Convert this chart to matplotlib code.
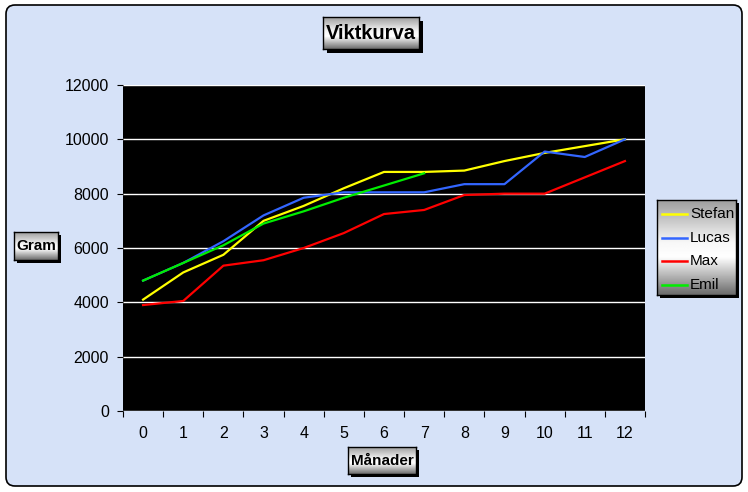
import numpy as np
import matplotlib
matplotlib.use("Agg")
import matplotlib.pyplot as plt
from matplotlib.patches import Rectangle, FancyBboxPatch
from matplotlib.lines import Line2D

plt.rcParams['font.family'] = ['Liberation Sans', 'DejaVu Sans']

months = list(range(13))
stefan = [4100, 5100, 5750, 7000, 7550, 8200, 8800, 8800, 8850, 9200, 9500, 9750, 10000]
lucas = [4800, 5450, 6250, 7200, 7850, 8050, 8050, 8050, 8350, 8350, 9550, 9350, 10000]
max_ = [3900, 4050, 5350, 5550, 6000, 6550, 7250, 7400, 7950, 8000, 8000, 8600, 9200]
emil = [4800, 5450, 6100, 6900, 7350, 7850, 8300, 8750]
names = ["Stefan", "Lucas", "Max", "Emil"]
colors = ["#ffff00", "#3366ff", "#ff0000", "#00ee00"]

W, H = 748, 492
BG = "#d6e2f8"


def fx(x):
    return x / W


def fy(y):
    return 1 - y / H


def gray_box(fig, x0, y0, x1, y1, shadow=4):
    # shadow + gradient box, pixel coords from top-left
    fig.patches.append(Rectangle((fx(x0 + shadow), fy(y1 + shadow)), fx(x1 - x0), (y1 - y0) / H,
                                 transform=fig.transFigure, facecolor="black", edgecolor="none", zorder=1))
    bax = fig.add_axes([fx(x0), fy(y1), fx(x1 - x0), (y1 - y0) / H], zorder=3)
    t = np.linspace(0, 1, 100)
    g = np.interp(t, [0, 0.45, 0.6, 1], [0.62, 0.97, 1.0, 0.42])
    bax.imshow(g[:, None], aspect="auto", cmap="gray", vmin=0, vmax=1, extent=[0, 1, 0, 1])
    bax.set_xticks([])
    bax.set_yticks([])
    for s in bax.spines.values():
        s.set_linewidth(1.0)
        s.set_color("black")
    return bax


fig = plt.figure(figsize=(W / 100, H / 100), dpi=100, facecolor="white")
fig.patches.append(FancyBboxPatch((fx(6), fy(486)), fx(736), 481 / H,
                                  boxstyle="round,pad=0,rounding_size=0.012",
                                  transform=fig.transFigure, facecolor=BG, edgecolor="black",
                                  linewidth=1.2, zorder=0, mutation_aspect=W / H))

ax = fig.add_axes([fx(123), fy(411), fx(645 - 123), (411 - 85) / H], zorder=2)
ax.set_facecolor("black")
for name, col, vals in zip(names, colors, [stefan, lucas, max_, emil]):
    ax.plot(months[:len(vals)], vals, color=col, lw=1.6, label=name)

ax.set_xlim(-0.5, 12.5)
ax.set_ylim(0, 12000)
ax.set_yticks(range(0, 12001, 2000))
ax.yaxis.grid(True, color="white", lw=1.0)
ax.set_axisbelow(True)
ax.set_xticks(months)
ax.set_xticks(np.arange(-0.5, 13, 1), minor=True)
ax.tick_params(axis="x", which="major", length=0, pad=11, labelsize=11.5)
ax.tick_params(axis="x", which="minor", length=4, width=0.8, direction="out")
ax.tick_params(axis="y", length=4, width=0.8, pad=6, labelsize=11.5)
for s in ax.spines.values():
    s.set_visible(False)

# title
gray_box(fig, 323, 17, 419, 49)
fig.text(fx(371), fy(33), "Viktkurva", ha="center", va="center", fontsize=14.5, fontweight="bold", zorder=10)
# y label
gray_box(fig, 14, 232, 58, 260, shadow=3)
fig.text(fx(36), fy(246), "Gram", ha="center", va="center", fontsize=11, fontweight="bold", zorder=10)
# x label
gray_box(fig, 348, 447, 416, 474, shadow=3)
fig.text(fx(382), fy(461), "Månader", ha="center", va="center", fontsize=11, fontweight="bold", zorder=10)

# legend
gray_box(fig, 657, 200, 736, 295, shadow=3)
for i, (name, col) in enumerate(zip(names, colors)):
    yy = 214 + i * 23.7
    fig.lines.append(Line2D([fx(662), fx(687)], [fy(yy), fy(yy)], color=col, lw=1.8,
                            transform=fig.transFigure, zorder=10))
    fig.text(fx(690), fy(yy), name, ha="left", va="center", fontsize=11, zorder=10)

fig.savefig("out.png", dpi=100, facecolor="white")
